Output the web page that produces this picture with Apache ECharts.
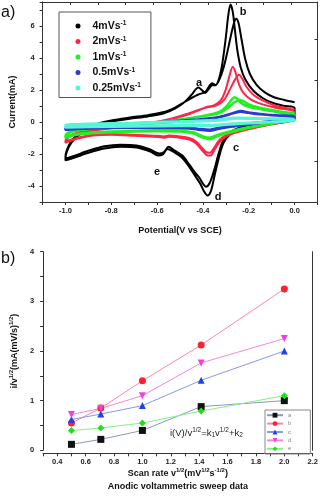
<!DOCTYPE html>
<html>
<head>
<meta charset="utf-8">
<script src="https://cdn.jsdelivr.net/npm/echarts@6/dist/echarts.min.js"></script>
<style>
html,body{margin:0;padding:0;background:#fff;}
#main{width:321px;height:502px;}
</style>
</head>
<body>
<div id="main"></div>
<script>
/*
* a) cyclic voltammograms, b) i/v^1/2 vs v^1/2
* */
var FONT = 'Liberation Sans, Arial, sans-serif';

// ---- a) CV loops [potential V, current mA], two cycles per scan rate ----
var black1Lower = [[0,0.12],[-0.05,-0.02],[-0.1,-0.12],[-0.17,-0.25],[-0.24,-0.45],[-0.28,-0.75],[-0.31,-1.3],[-0.33,-2.2],[-0.35,-3.4],[-0.365,-4.3],[-0.38,-4.6],[-0.395,-4.35],[-0.41,-3.9],[-0.43,-3.45],[-0.46,-2.8],[-0.49,-2.25],[-0.53,-1.85],[-0.555,-1.68],[-0.575,-2.02],[-0.595,-2.1],[-0.63,-1.85],[-0.69,-1.6],[-0.76,-1.55],[-0.83,-1.66],[-0.9,-1.93],[-0.96,-2.22],[-1.0,-2.4]];
var black1Upper = [[-1.0,-2.25],[-0.985,-1.55],[-0.96,-1.05],[-0.92,-0.6],[-0.87,-0.25],[-0.8,0.02],[-0.72,0.2],[-0.64,0.35],[-0.57,0.55],[-0.52,0.85],[-0.48,1.25],[-0.45,1.7],[-0.42,2.15],[-0.405,2.0],[-0.39,1.82],[-0.375,2.05],[-0.36,2.3],[-0.345,2.3],[-0.33,2.7],[-0.315,3.7],[-0.3,5.3],[-0.29,6.6],[-0.28,7.35],[-0.27,6.9],[-0.26,5.7],[-0.25,4.5],[-0.235,3.4],[-0.215,2.65],[-0.18,1.95],[-0.14,1.5],[-0.1,1.22],[-0.05,1.02],[0,0.88]];
var black2Lower = [[0,0.15],[-0.05,0.05],[-0.1,-0.05],[-0.17,-0.17],[-0.24,-0.35],[-0.28,-0.62],[-0.31,-1.1],[-0.33,-1.9],[-0.35,-2.95],[-0.37,-3.8],[-0.387,-4.05],[-0.4,-3.85],[-0.415,-3.5],[-0.435,-3.15],[-0.46,-2.65],[-0.49,-2.1],[-0.53,-1.72],[-0.55,-1.55],[-0.57,-1.88],[-0.59,-1.97],[-0.63,-1.72],[-0.69,-1.47],[-0.76,-1.42],[-0.83,-1.52],[-0.9,-1.8],[-0.96,-2.1],[-1.0,-2.28]];
var black2Upper = [[-1.0,-2.15],[-0.985,-1.45],[-0.96,-0.95],[-0.92,-0.5],[-0.87,-0.15],[-0.8,0.1],[-0.72,0.28],[-0.64,0.43],[-0.57,0.62],[-0.52,0.92],[-0.48,1.25],[-0.45,1.5],[-0.42,1.72],[-0.39,1.88],[-0.36,2.42],[-0.345,2.32],[-0.33,2.6],[-0.31,3.4],[-0.29,4.6],[-0.275,5.6],[-0.263,6.25],[-0.255,6.45],[-0.245,6.2],[-0.232,5.2],[-0.215,3.9],[-0.195,3.0],[-0.165,2.3],[-0.13,1.85],[-0.09,1.55],[-0.045,1.38],[0,1.24]];

var red1Lower = [[0,0.1],[-0.06,-0.05],[-0.12,-0.2],[-0.2,-0.45],[-0.26,-0.68],[-0.3,-0.92],[-0.33,-1.3],[-0.35,-1.75],[-0.368,-2.1],[-0.385,-2.05],[-0.405,-1.75],[-0.43,-1.35],[-0.46,-1.1],[-0.5,-0.98],[-0.55,-0.92],[-0.57,-0.98],[-0.6,-0.93],[-0.7,-0.86],[-0.8,-0.8],[-0.88,-0.85],[-0.95,-1.05],[-1.0,-1.3]];
var red1Upper = [[-1.0,-1.2],[-0.98,-0.9],[-0.95,-0.72],[-0.9,-0.58],[-0.82,-0.42],[-0.72,-0.25],[-0.62,-0.08],[-0.54,0.15],[-0.47,0.45],[-0.42,0.72],[-0.38,0.95],[-0.35,1.05],[-0.32,1.4],[-0.3,2.05],[-0.285,2.85],[-0.27,3.45],[-0.258,3.1],[-0.245,2.45],[-0.225,1.85],[-0.19,1.4],[-0.14,1.1],[-0.08,0.88],[0,0.62]];
var red2Lower = [[0,0.15],[-0.06,0.0],[-0.12,-0.15],[-0.2,-0.38],[-0.26,-0.6],[-0.3,-0.82],[-0.33,-1.15],[-0.35,-1.58],[-0.37,-1.92],[-0.387,-1.87],[-0.405,-1.6],[-0.43,-1.22],[-0.46,-1.0],[-0.5,-0.9],[-0.55,-0.84],[-0.57,-0.9],[-0.6,-0.86],[-0.7,-0.8],[-0.8,-0.75],[-0.88,-0.8],[-0.95,-1.0],[-1.0,-1.22]];
var red2Upper = [[-1.0,-1.15],[-0.98,-0.85],[-0.95,-0.67],[-0.9,-0.53],[-0.82,-0.37],[-0.72,-0.2],[-0.62,-0.03],[-0.54,0.2],[-0.47,0.5],[-0.42,0.75],[-0.38,0.92],[-0.35,1.0],[-0.32,1.2],[-0.3,1.55],[-0.28,2.1],[-0.26,2.65],[-0.242,2.95],[-0.228,2.7],[-0.21,2.2],[-0.18,1.7],[-0.14,1.35],[-0.09,1.05],[-0.04,0.88],[0,0.76]];

var green1Lower = [[0,0.2],[-0.08,-0.05],[-0.16,-0.25],[-0.24,-0.5],[-0.3,-0.72],[-0.34,-0.9],[-0.37,-1.08],[-0.4,-0.98],[-0.44,-0.72],[-0.5,-0.6],[-0.6,-0.58],[-0.7,-0.6],[-0.8,-0.65],[-0.9,-0.72],[-0.96,-0.82],[-1.0,-1.0]];
var green1Upper = [[-1.0,-0.9],[-0.97,-0.6],[-0.9,-0.45],[-0.8,-0.35],[-0.7,-0.22],[-0.6,-0.08],[-0.5,0.12],[-0.42,0.32],[-0.36,0.5],[-0.32,0.7],[-0.29,1.1],[-0.275,1.4],[-0.262,1.55],[-0.25,1.45],[-0.235,1.2],[-0.21,1.0],[-0.17,0.85],[-0.1,0.68],[-0.05,0.55],[0,0.45]];
var green2Lower = [[0,0.25],[-0.08,0.0],[-0.16,-0.2],[-0.24,-0.44],[-0.3,-0.65],[-0.34,-0.82],[-0.37,-0.98],[-0.4,-0.9],[-0.44,-0.66],[-0.5,-0.54],[-0.6,-0.52],[-0.7,-0.55],[-0.8,-0.6],[-0.9,-0.67],[-0.96,-0.77],[-1.0,-0.95]];
var green2Upper = [[-1.0,-0.85],[-0.97,-0.55],[-0.9,-0.4],[-0.8,-0.3],[-0.7,-0.17],[-0.6,-0.03],[-0.5,0.15],[-0.42,0.33],[-0.36,0.45],[-0.32,0.6],[-0.29,0.9],[-0.265,1.2],[-0.242,1.38],[-0.225,1.3],[-0.2,1.1],[-0.16,0.92],[-0.1,0.75],[-0.05,0.62],[0,0.55]];

var blue1Lower = [[0,0.2],[-0.1,0.02],[-0.2,-0.15],[-0.28,-0.3],[-0.33,-0.42],[-0.37,-0.55],[-0.41,-0.5],[-0.46,-0.4],[-0.6,-0.36],[-0.8,-0.38],[-0.95,-0.44],[-1.0,-0.5]];
var blue1Upper = [[-1.0,-0.42],[-0.95,-0.3],[-0.8,-0.2],[-0.6,-0.05],[-0.45,0.08],[-0.35,0.22],[-0.3,0.4],[-0.26,0.6],[-0.235,0.68],[-0.2,0.6],[-0.15,0.5],[-0.08,0.42],[0,0.36]];
var blue2Lower = [[0,0.25],[-0.1,0.07],[-0.2,-0.1],[-0.28,-0.24],[-0.33,-0.36],[-0.37,-0.48],[-0.41,-0.44],[-0.46,-0.35],[-0.6,-0.31],[-0.8,-0.33],[-0.95,-0.39],[-1.0,-0.45]];
var blue2Upper = [[-1.0,-0.38],[-0.95,-0.26],[-0.8,-0.16],[-0.6,-0.01],[-0.45,0.12],[-0.35,0.26],[-0.3,0.42],[-0.26,0.58],[-0.235,0.64],[-0.2,0.57],[-0.15,0.48],[-0.08,0.4],[0,0.33]];

var cyan1Lower = [[0,0.06],[-0.1,-0.02],[-0.25,-0.12],[-0.37,-0.25],[-0.5,-0.25],[-0.7,-0.28],[-0.9,-0.32],[-1.0,-0.35]];
var cyan1Upper = [[-1.0,-0.22],[-0.9,-0.15],[-0.7,-0.08],[-0.5,0.0],[-0.35,0.08],[-0.25,0.22],[-0.15,0.2],[-0.05,0.17],[0,0.15]];
var cyan2Lower = [[0,0.1],[-0.1,0.02],[-0.25,-0.08],[-0.37,-0.2],[-0.5,-0.2],[-0.7,-0.23],[-0.9,-0.27],[-1.0,-0.3]];
var cyan2Upper = [[-1.0,-0.18],[-0.9,-0.11],[-0.7,-0.04],[-0.5,0.04],[-0.35,0.12],[-0.25,0.26],[-0.15,0.24],[-0.05,0.2],[0,0.18]];

var scanRates = ['4', '2', '1', '0.5', '0.25'];
var cvColors = ['#000000', '#ff2448', '#22ee22', '#2b3ad0', '#55f5d5'];
var cvWidths = [2, 2, 2.5, 2.5, 2.5];

// ---- b) anodic sweep data ----
var sqrtRate = [0.5, 0.707, 1.0, 1.414, 2.0];
var peakA = [0.12, 0.22, 0.40, 0.88, 1.00];
var peakB = [0.55, 0.85, 1.40, 2.12, 3.25];
var peakC = [0.62, 0.73, 0.90, 1.41, 2.00];
var peakD = [0.72, 0.845, 1.10, 1.76, 2.25];
var peakE = [0.40, 0.45, 0.55, 0.79, 1.10];

function pairs(xs, ys){
    var out = [];
    for(var i=0;i<xs.length;i++){
        out.push([xs[i], ys[i]]);
    }
    return out;
}
function evenTenth(v){
    var k = Math.round(v*10);
    return k % 2 === 0 ? (k/10).toFixed(1) : '';
}

var cvLoops = [
    [].concat(black1Lower, black1Upper, black2Lower, black2Upper),
    [].concat(red1Lower, red1Upper, red2Lower, red2Upper),
    [].concat(green1Lower, green1Upper, green2Lower, green2Upper),
    [].concat(blue1Lower, blue1Upper, blue2Lower, blue2Upper),
    [].concat(cyan1Lower, cyan1Upper, cyan2Lower, cyan2Upper)
];

var series = [];
for(var i=0;i<cvLoops.length;i++){
    series.push({
        name : scanRates[i],
        type : 'line',
        xAxisIndex : 0,
        yAxisIndex : 0,
        data : cvLoops[i],
        showSymbol : false,
        smooth : 0.3,
        animation : false,
        lineStyle : { width : cvWidths[i], color : cvColors[i] },
        itemStyle : { color : cvColors[i] }
    });
}

var bNames = ['a','b','c','d','e'];
var bValues = [peakA, peakB, peakC, peakD, peakE];
var bSymbols = ['rect','circle','triangle','triangle','diamond'];
var bRotate = [0, 0, 0, 180, 0];
var bMarkColors = ['#111111','#ff2030','#2040f0','#f040d8','#22dd22'];
var bLineColors = ['#8a98c0','#ff86a8','#8898e8','#f088e0','#88ee88'];
for(var j=0;j<bNames.length;j++){
    series.push({
        name : bNames[j],
        type : 'line',
        xAxisIndex : 2,
        yAxisIndex : 2,
        data : pairs(sqrtRate, bValues[j]),
        symbol : bSymbols[j],
        symbolRotate : bRotate[j],
        symbolSize : 7,
        animation : false,
        lineStyle : { width : 1, color : bLineColors[j] },
        itemStyle : { color : bMarkColors[j] }
    });
}

var tickLabel = { fontSize : 7.5, fontWeight : 'bold', color : '#222', fontFamily : FONT };
var nameRich = {
    t : { fontSize : 9, fontWeight : 'bold', color : '#111', fontFamily : FONT, lineHeight : 13 },
    s : { fontSize : 6, fontWeight : 'bold', color : '#111', fontFamily : FONT, lineHeight : 7, verticalAlign : 'top' }
};
var axisColor = '#333';

var option = {
    backgroundColor : '#fff',
    animation : false,
    grid : [
        { left : 35.8, right : 3.5, top : 2, height : 200 },
        { left : 34.7, right : 8.3, top : 251.7, height : 198.6 }
    ],
    legend : [
        {
            data : scanRates,
            orient : 'vertical',
            left : 59,
            top : 12,
            icon : 'circle',
            itemWidth : 5,
            itemHeight : 5,
            itemGap : 4,
            padding : [8, 10, 4, 16.5],
            borderColor : '#555',
            borderWidth : 1,
            formatter : function(name){
                return '{n|' + name + 'mVs}{s|-1}';
            },
            textStyle : {
                rich : {
                    n : { fontSize : 10.5, fontWeight : 'bold', color : '#111', fontFamily : FONT, lineHeight : 12, padding : [0,0,0,7] },
                    s : { fontSize : 6.5, fontWeight : 'bold', color : '#111', fontFamily : FONT, lineHeight : 7, verticalAlign : 'top' }
                }
            }
        },
        {
            data : bNames,
            orient : 'vertical',
            left : 265,
            top : 410,
            itemWidth : 16,
            itemHeight : 6,
            itemGap : 1,
            padding : [1.5, 19, 1.5, 1],
            borderColor : '#888',
            borderWidth : 1,
            textStyle : { fontSize : 6, color : '#888', fontFamily : FONT, lineHeight : 7.4 }
        }
    ],
    xAxis : [
        {
            gridIndex : 0, type : 'value', min : -1.1, max : 0.1, interval : 0.1,
            axisLine : { onZero : false, lineStyle : { color : axisColor } },
            axisTick : { length : 3, lineStyle : { color : axisColor } },
            axisLabel : Object.assign({ margin : 5, formatter : evenTenth }, tickLabel),
            splitLine : { show : false },
            name : '{t|Potential(V vs SCE)}', nameLocation : 'middle', nameGap : 22,
            nameTextStyle : { rich : nameRich }
        },
        {
            gridIndex : 0, type : 'value', position : 'top', min : 0, max : 9.95, interval : 1,
            axisLine : { onZero : false, lineStyle : { color : axisColor } },
            axisTick : { inside : true, length : 3, lineStyle : { color : axisColor } },
            axisLabel : { show : false },
            splitLine : { show : false }
        },
        {
            gridIndex : 1, type : 'value', min : 0.3, max : 2.2, interval : 0.1, offset : 3,
            axisLine : { onZero : false, lineStyle : { color : axisColor } },
            axisTick : { length : 3, lineStyle : { color : axisColor } },
            axisLabel : Object.assign({ margin : 5, formatter : evenTenth }, tickLabel),
            splitLine : { show : false },
            name : '{t|Scan rate v}{s|1/2}{t|(mV}{s|1/2}{t|s}{s|-1/2}{t|)}\n{t|Anodic voltammetric sweep data}',
            nameLocation : 'middle', nameGap : 13,
            nameTextStyle : { rich : nameRich }
        }
    ],
    yAxis : [
        {
            gridIndex : 0, type : 'value', min : -5, max : 7.5, interval : 1,
            axisLine : { onZero : false, lineStyle : { color : axisColor } },
            axisTick : { length : 3, lineStyle : { color : axisColor } },
            axisLabel : Object.assign({ margin : 8, formatter : function(v){ return v % 2 === 0 ? String(v) : ''; } }, tickLabel),
            splitLine : { show : false },
            name : '{t|Current(mA)}', nameLocation : 'middle', nameGap : 18,
            nameTextStyle : { rich : nameRich }
        },
        {
            gridIndex : 0, type : 'value', position : 'right', min : 0, max : 4.93, interval : 1,
            axisLine : { onZero : false, lineStyle : { color : axisColor } },
            axisTick : { inside : true, length : 3, lineStyle : { color : axisColor } },
            axisLabel : { show : false },
            splitLine : { show : false }
        },
        {
            gridIndex : 1, type : 'value', min : 0, max : 4, interval : 0.5,
            axisLine : { onZero : false, lineStyle : { color : axisColor } },
            axisTick : { length : 3, lineStyle : { color : axisColor } },
            axisLabel : Object.assign({ margin : 9, formatter : function(v){ return v % 1 === 0 ? String(v) : ''; } }, tickLabel),
            splitLine : { show : false },
            name : '{t|i/v}{s|1/2}{t|(mA(mV/s)}{s|1/2}{t|)}', nameLocation : 'middle', nameGap : 16,
            nameTextStyle : { rich : nameRich }
        },
        {
            gridIndex : 1, type : 'value', position : 'right', min : 0, max : 4,
            axisLine : { onZero : false, lineStyle : { color : axisColor } },
            axisTick : { show : false },
            axisLabel : { show : false },
            splitLine : { show : false }
        }
    ],
    graphic : [
        { type : 'text', x : 1, y : 13, style : { text : 'a)', fontSize : 16, fontFamily : FONT, fill : '#111', verticalAlign : 'middle' } },
        { type : 'text', x : 1, y : 259, style : { text : 'b)', fontSize : 16, fontFamily : FONT, fill : '#111', verticalAlign : 'middle' } },
        { type : 'text', x : 199, y : 83, style : { text : 'a', font : 'bold 11px ' + FONT, fill : '#111', align : 'center', verticalAlign : 'middle' } },
        { type : 'text', x : 243, y : 12, style : { text : 'b', font : 'bold 11px ' + FONT, fill : '#111', align : 'center', verticalAlign : 'middle' } },
        { type : 'text', x : 236, y : 148, style : { text : 'c', font : 'bold 11px ' + FONT, fill : '#111', align : 'center', verticalAlign : 'middle' } },
        { type : 'text', x : 218, y : 197, style : { text : 'd', font : 'bold 11px ' + FONT, fill : '#111', align : 'center', verticalAlign : 'middle' } },
        { type : 'text', x : 157, y : 172, style : { text : 'e', font : 'bold 11px ' + FONT, fill : '#111', align : 'center', verticalAlign : 'middle' } },
        {
            type : 'text', x : 170, y : 427,
            style : {
                text : '{t|i(V)/v}{s|1/2}{t|=k}{b|1}{t|v}{s|1/2}{t|+k}{b|2}',
                rich : {
                    t : { fontSize : 9.5, fontFamily : FONT, fill : '#222', lineHeight : 12 },
                    s : { fontSize : 6.5, fontFamily : FONT, fill : '#222', lineHeight : 7, verticalAlign : 'top' },
                    b : { fontSize : 6.5, fontFamily : FONT, fill : '#222', lineHeight : 7, verticalAlign : 'bottom' }
                }
            }
        }
    ],
    series : series
};

var myChart = echarts.init(document.getElementById('main'), null, { renderer : 'canvas' });
myChart.setOption(option);
</script>
</body>
</html>
